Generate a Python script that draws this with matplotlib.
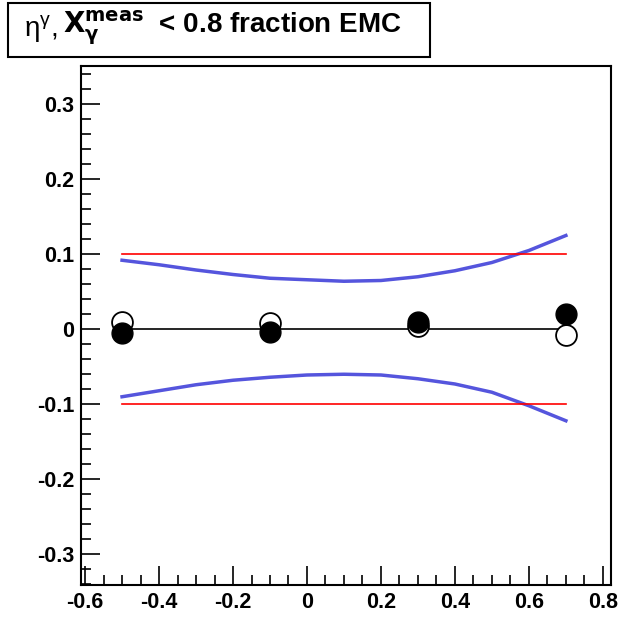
import numpy as np
import matplotlib
matplotlib.use("Agg")
import matplotlib.pyplot as plt
from matplotlib.ticker import MultipleLocator
from matplotlib.patches import Rectangle

plt.rcParams['font.family'] = ['Liberation Sans', 'DejaVu Sans']

# points (eta bins)
eta = [-0.5, -0.1, 0.3, 0.7]
open_vals = [0.010, 0.008, 0.005, -0.008]
filled_vals = [-0.005, -0.004, 0.010, 0.020]

# blue uncertainty band
band_x = [-0.5, -0.4, -0.3, -0.2, -0.1, 0.0, 0.1, 0.2, 0.3, 0.4, 0.5, 0.6, 0.7]
band_up = [0.092, 0.086, 0.079, 0.073, 0.068, 0.066, 0.064, 0.065, 0.070, 0.078, 0.089, 0.105, 0.125]
band_lo = [-0.090, -0.082, -0.074, -0.068, -0.064, -0.061, -0.060, -0.061, -0.066, -0.073, -0.084, -0.102, -0.122]

# reference lines
ref_x = [-0.5, 0.7]
red_level = 0.1

fig = plt.figure(figsize=(6.26, 6.2), dpi=100)
ax = fig.add_axes([81/626, 1 - 585/620, 530/626, 519/620])

ax.plot(band_x, band_up, color='#5555dd', lw=2.5)
ax.plot(band_x, band_lo, color='#5555dd', lw=2.5)
ax.plot(ref_x, [red_level, red_level], color='red', lw=1.2)
ax.plot(ref_x, [-red_level, -red_level], color='red', lw=1.2)
ax.plot(ref_x, [0, 0], color='black', lw=1.2)

ax.plot(eta, open_vals, 'o', ms=15, mfc='white', mec='black', mew=1.3, ls='none')
ax.plot(eta, filled_vals, 'o', ms=15, mfc='black', mec='black', ls='none')

ax.set_xlim(-0.611, 0.822)
ax.set_ylim(-0.341, 0.351)

ax.xaxis.set_minor_locator(MultipleLocator(0.05))
ax.yaxis.set_minor_locator(MultipleLocator(0.02))
ax.tick_params(which='both', direction='in', top=False, right=False, width=1.2)
ax.tick_params(which='major', length=14, labelsize=15.5, pad=5)
ax.tick_params(which='minor', length=7)

def fmt(v):
    s = f"{v:.1f}"
    if s in ("0.0", "-0.0"):
        return "0"
    return s

xt = np.arange(-0.6, 0.81, 0.2)
yt = np.arange(-0.3, 0.31, 0.1)
ax.set_xticks(xt)
ax.set_xticklabels([fmt(v) for v in xt], fontweight='bold')
ax.set_yticks(yt)
ax.set_yticklabels([fmt(v) for v in yt], fontweight='bold')

for sp in ax.spines.values():
    sp.set_linewidth(1.5)

# title box
fig.patches.append(Rectangle((8/626, 1 - 57/620), 422/626, 54/620, transform=fig.transFigure,
                             facecolor='white', edgecolor='black', lw=1.5))
t1 = fig.text(24/626, 1 - 28/620, r"$\mathregular{\eta^{\gamma}}$,",
              ha='left', va='center', fontsize=20, fontweight='normal')
fig.canvas.draw()
bb = t1.get_window_extent()
fig.text(bb.x1 / fig.bbox.width + 6/626, 1 - 28/620,
         r"$\mathbf{X_{\gamma}^{meas}}$  < 0.8 fraction EMC",
         ha='left', va='center', fontsize=20, fontweight='bold')

fig.savefig("out.png", dpi=100)
